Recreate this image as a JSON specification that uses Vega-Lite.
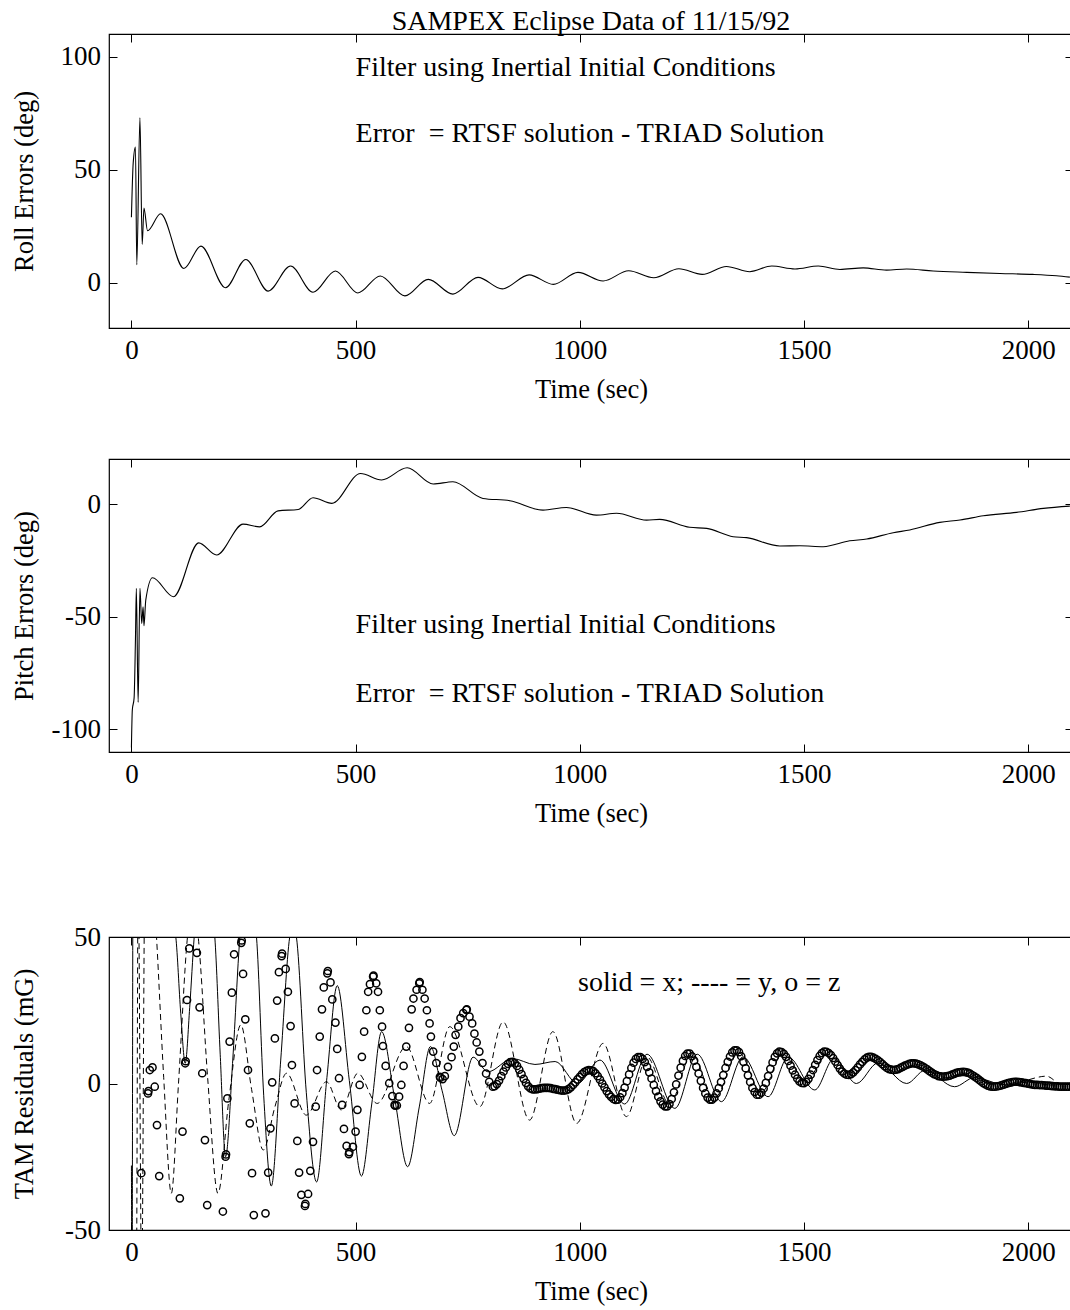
{
  "$schema": "https://vega.github.io/schema/vega-lite/v6.json",
  "background": "white",
  "padding": {"left": 10, "top": 6, "right": 0, "bottom": 0},
  "config": {
    "font": "Liberation Serif",
    "view": {"stroke": "black", "strokeWidth": 1.2},
    "axis": {
      "labelFont": "Liberation Serif", "titleFont": "Liberation Serif",
      "labelFontSize": 27, "titleFontSize": 26.5, "titleFontWeight": "normal",
      "labelColor": "black", "titleColor": "black", "tickColor": "black",
      "grid": false, "domain": false, "tickSize": -8, "tickWidth": 1,
      "labelFlush": false, "labelOverlap": false, "minExtent": 0
    }
  },
  "datasets": {
    "roll": [
      {"t":0,"v":29},{"t":4,"v":53},{"t":9,"v":60},{"t":12,"v":8},{"t":19,"v":73},{"t":24,"v":17},{"t":28,"v":33},{"t":36,"v":23},
      {"t":65,"v":30.5},{"t":117,"v":6.3},{"t":155,"v":16.2},{"t":210,"v":-2.2},{"t":255,"v":10.3},{"t":305,"v":-3.7},{"t":355,"v":7.4},
      {"t":405,"v":-4.2},{"t":455,"v":5.2},{"t":505,"v":-4.5},{"t":555,"v":3.0},{"t":610,"v":-5.8},{"t":662,"v":1.5},{"t":717,"v":-5.0},
      {"t":773,"v":2.4},{"t":827,"v":-2.7},{"t":887,"v":3.5},{"t":941,"v":-0.7},{"t":996,"v":4.6},{"t":1052,"v":0.8},{"t":1109,"v":5.3},
      {"t":1165,"v":2.2},{"t":1221,"v":6.2},{"t":1273,"v":3.7},{"t":1327,"v":7.2},{"t":1379,"v":4.9},{"t":1428,"v":7.4},{"t":1480,"v":6.1},
      {"t":1532,"v":7.4},{"t":1580,"v":5.9},{"t":1632,"v":6.6},{"t":1684,"v":5.6},{"t":1729,"v":6.1},{"t":1788,"v":5.2},{"t":1863,"v":4.6},
      {"t":1937,"v":4.1},{"t":2011,"v":3.7},{"t":2063,"v":3.1},{"t":2093,"v":2.5}
    ],
    "pitch": [
      {"t":0,"v":-108},{"t":2,"v":-91.4},{"t":6,"v":-86},{"t":9,"v":-60},{"t":11,"v":-37.4},{"t":15,"v":-88},{"t":19,"v":-37.4},{"t":23,"v":-53},
      {"t":26,"v":-45.6},{"t":28,"v":-54},{"t":32,"v":-42.6},{"t":47,"v":-32.7},{"t":94,"v":-41.1},{"t":150,"v":-17.2},{"t":190,"v":-22.6},
      {"t":249,"v":-8.9},{"t":286,"v":-10.1},{"t":327,"v":-3.0},{"t":372,"v":-2.4},{"t":405,"v":2.8},{"t":447,"v":0.3},{"t":511,"v":13.6},
      {"t":558,"v":10.7},{"t":615,"v":16.1},{"t":673,"v":8.9},{"t":717,"v":9.9},{"t":784,"v":2.5},{"t":844,"v":1.5},{"t":918,"v":-2.7},
      {"t":970,"v":-1.5},{"t":1037,"v":-4.9},{"t":1082,"v":-4.1},{"t":1149,"v":-7.1},{"t":1178,"v":-6.8},{"t":1245,"v":-10.3},{"t":1283,"v":-10.8},
      {"t":1342,"v":-14.5},{"t":1372,"v":-14.9},{"t":1446,"v":-18.6},{"t":1491,"v":-18.5},{"t":1543,"v":-18.9},{"t":1602,"v":-16.3},
      {"t":1640,"v":-15.5},{"t":1699,"v":-12.7},{"t":1736,"v":-11.5},{"t":1803,"v":-8.1},{"t":1848,"v":-7.1},{"t":1900,"v":-5.2},
      {"t":1974,"v":-3.7},{"t":2034,"v":-1.9},{"t":2093,"v":-0.9}
    ],
    "tamx": [
      {"t":0,"v":-28},{"t":1.5,"v":-70},{"t":3.5,"v":70},{"t":50,"v":85},{"t":99,"v":50},{"t":110,"v":24},{"t":120,"v":6.9},{"t":130,"v":26},
      {"t":140,"v":50},{"t":163,"v":75},{"t":186,"v":50},{"t":198,"v":10},{"t":210,"v":-25},{"t":226,"v":8},{"t":242,"v":50},{"t":261,"v":68},
      {"t":279,"v":50},{"t":295,"v":-4},{"t":312,"v":-35},{"t":333,"v":8},{"t":353,"v":50},{"t":360,"v":55},{"t":368,"v":50},{"t":390,"v":-3},
      {"t":413,"v":-33.6},{"t":436,"v":2},{"t":459,"v":33.4},{"t":486,"v":1},{"t":513,"v":-31.6},{"t":536,"v":-7},{"t":558,"v":17.7},
      {"t":587,"v":-5},{"t":616,"v":-28.4},{"t":642,"v":-8},{"t":667,"v":12.6},{"t":693,"v":-2.5},{"t":720,"v":-17.8},{"t":762,"v":9},
      {"t":795,"v":4},{"t":850,"v":8.5},{"t":900,"v":6.5},{"t":945,"v":7.5},{"t":995,"v":0},{"t":1045,"v":8},{"t":1100,"v":-7},
      {"t":1150,"v":10},{"t":1212,"v":-8.5},{"t":1262,"v":10},{"t":1316,"v":-6.2},{"t":1364,"v":9.1},{"t":1420,"v":-4.5},{"t":1465,"v":9},
      {"t":1524,"v":-2.2},{"t":1567,"v":8.5},{"t":1617,"v":0},{"t":1665,"v":7},{"t":1729,"v":0},{"t":1770,"v":4.5},{"t":1836,"v":-1.1},
      {"t":1880,"v":2},{"t":1950,"v":-0.5},{"t":2000,"v":0.5},{"t":2050,"v":-0.5},{"t":2100,"v":-0.3}
    ],
    "tamy": [
      {"t":0,"v":-70},{"t":11,"v":-70},{"t":15,"v":70},{"t":23,"v":-70},{"t":30,"v":70},{"t":42,"v":85},{"t":56,"v":50},{"t":72,"v":2},
      {"t":89,"v":-37.5},{"t":105,"v":0},{"t":125,"v":50},{"t":137,"v":62},{"t":149,"v":50},{"t":170,"v":2},{"t":193,"v":-37.5},
      {"t":217,"v":-6},{"t":244,"v":20},{"t":268,"v":-2},{"t":294,"v":-22.7},{"t":320,"v":-8},{"t":346,"v":3.5},{"t":390,"v":-10.8},
      {"t":435,"v":0.6},{"t":468,"v":-9},{"t":505,"v":3.5},{"t":548,"v":-6.8},{"t":613,"v":12.6},{"t":665,"v":-6.8},{"t":710,"v":19.4},
      {"t":777,"v":-7.9},{"t":829,"v":21},{"t":888,"v":-12.5},{"t":940,"v":17.7},{"t":993,"v":-13.6},{"t":1052,"v":13.7},{"t":1104,"v":-11.3},
      {"t":1150,"v":9},{"t":1200,"v":-7},{"t":1250,"v":10},{"t":1300,"v":-5},{"t":1355,"v":10.5},{"t":1405,"v":-3},{"t":1452,"v":10},
      {"t":1505,"v":1},{"t":1552,"v":10},{"t":1605,"v":3},{"t":1652,"v":8},{"t":1705,"v":4},{"t":1750,"v":6.5},{"t":1815,"v":2},
      {"t":1860,"v":3.5},{"t":1925,"v":-0.5},{"t":1980,"v":0.5},{"t":2041,"v":2.5},{"t":2070,"v":0},{"t":2100,"v":-0.5}
    ],
    "tamz": [
      {"t":22,"v":-30.6},{"t":37,"v":-3.4},{"t":38,"v":-2.6},{"t":41,"v":4.6},{"t":47,"v":5.5},{"t":52,"v":-1.1},{"t":57,"v":-14.2},{"t":62,"v":-31.6},
      {"t":108,"v":-39.2},{"t":114,"v":-16.4},{"t":120,"v":6.9},{"t":121,"v":7.6},{"t":124,"v":28.5},{"t":129,"v":46.1},{"t":146,"v":44.6},
      {"t":152,"v":26},{"t":158,"v":3.5},{"t":164,"v":-19.3},{"t":169,"v":-41.5},{"t":204,"v":-43.7},{"t":210,"v":-25},{"t":211,"v":-24.2},
      {"t":214,"v":-5.1},{"t":219,"v":14.3},{"t":224,"v":31},{"t":229,"v":44.1},{"t":245,"v":48},{"t":246,"v":48.8},{"t":249,"v":37.4},
      {"t":254,"v":21.9},{"t":260,"v":4.6},{"t":264,"v":-13.6},{"t":269,"v":-30.6},{"t":273,"v":-44.9},{"t":299,"v":-44.3},{"t":305,"v":-30.4},
      {"t":310,"v":-15.3},{"t":314,"v":0.4},{"t":320,"v":15.4},{"t":325,"v":28.3},{"t":329,"v":38},{"t":335,"v":43.5},{"t":336,"v":44.3},
      {"t":344,"v":39.1},{"t":349,"v":31.3},{"t":355,"v":19.6},{"t":358,"v":6.3},{"t":364,"v":-6.8},{"t":370,"v":-19.6},{"t":374,"v":-30.4},
      {"t":379,"v":-38},{"t":387,"v":-41.8},{"t":388,"v":-41.1},{"t":394,"v":-37.7},{"t":399,"v":-29.8},{"t":405,"v":-19.9},{"t":411,"v":-7.9},
      {"t":414,"v":4.6},{"t":420,"v":16},{"t":425,"v":25.3},{"t":429,"v":32.8},{"t":437,"v":37.6},{"t":438,"v":38.4},{"t":444,"v":34.5},
      {"t":448,"v":28.7},{"t":455,"v":20.8},{"t":459,"v":11.8},{"t":463,"v":1.8},{"t":470,"v":-7.3},{"t":474,"v":-15.5},{"t":480,"v":-21.3},
      {"t":485,"v":-24.1},{"t":486,"v":-23.4},{"t":494,"v":-21.6},{"t":500,"v":-16.4},{"t":504,"v":-9},{"t":509,"v":-0.5},{"t":514,"v":9.1},
      {"t":519,"v":17.7},{"t":524,"v":25},{"t":528,"v":31.3},{"t":532,"v":33.9},{"t":539,"v":36.5},{"t":540,"v":36.8},{"t":546,"v":34.2},
      {"t":550,"v":31.3},{"t":554,"v":25},{"t":559,"v":19.4},{"t":561,"v":12.8},{"t":567,"v":6},{"t":575,"v":0.1},{"t":582,"v":-4.3},
      {"t":587,"v":-7.3},{"t":588,"v":-7.6},{"t":592,"v":-7.5},{"t":597,"v":-4.5},{"t":602,"v":-0.5},{"t":607,"v":6},{"t":613,"v":12.6},
      {"t":619,"v":19},{"t":625,"v":25.3},{"t":629,"v":29},{"t":636,"v":32},{"t":642,"v":34.2},{"t":643,"v":34.6},{"t":649,"v":32},
      {"t":654,"v":29},{"t":659,"v":25},{"t":665,"v":20.5},{"t":668,"v":16},{"t":673,"v":10.9},{"t":680,"v":7},{"t":688,"v":2.3},
      {"t":689,"v":2},{"t":694,"v":1.5},{"t":699,"v":2.5},{"t":706,"v":5.7},{"t":714,"v":9},{"t":719,"v":12.6},{"t":723,"v":16.6},
      {"t":729,"v":19.4},{"t":734,"v":22.3},{"t":740,"v":24},{"t":747,"v":25.1},{"t":748,"v":25.3},{"t":754,"v":22.8},{"t":760,"v":20.5},
      {"t":765,"v":17},{"t":770,"v":14},{"t":776,"v":10.9},{"t":783,"v":7},{"t":791,"v":3.4},{"t":798,"v":0.6},{"t":806,"v":-1.1},
      {"t":810,"v":-0.9},{"t":815,"v":-0.2},{"t":820,"v":1.0},{"t":825,"v":2.5},{"t":830,"v":4.1},{"t":835,"v":5.5},{"t":840,"v":6.7},{"t":845,"v":7.3},
      {"t":850,"v":7.4},{"t":855,"v":6.9},{"t":860,"v":6.0},{"t":865,"v":4.7},{"t":870,"v":3.2},{"t":875,"v":1.6},{"t":880,"v":0.2},{"t":885,"v":-1.0},
      {"t":890,"v":-1.7},{"t":895,"v":-2.0},{"t":900,"v":-2.0},{"t":905,"v":-1.9},{"t":910,"v":-1.75},{"t":915,"v":-1.6},{"t":920,"v":-1.5},
      {"t":925,"v":-1.5},{"t":930,"v":-1.5},{"t":935,"v":-1.6},{"t":940,"v":-1.8},{"t":945,"v":-1.95},{"t":950,"v":-2.1},{"t":955,"v":-2.3},
      {"t":960,"v":-2.4},{"t":965,"v":-2.4},{"t":970,"v":-2.3},{"t":975,"v":-1.9},{"t":980,"v":-1.3},{"t":985,"v":-0.5},{"t":990,"v":0.4},
      {"t":995,"v":1.4},{"t":1000,"v":2.3},{"t":1005,"v":3.2},{"t":1010,"v":3.9},{"t":1015,"v":4.3},{"t":1020,"v":4.6},{"t":1025,"v":4.5},
      {"t":1030,"v":4.2},{"t":1035,"v":3.5},{"t":1040,"v":2.5},{"t":1045,"v":1.3},{"t":1050,"v":0.0},{"t":1055,"v":-1.3},{"t":1060,"v":-2.6},
      {"t":1065,"v":-3.7},{"t":1070,"v":-4.6},{"t":1075,"v":-5.3},{"t":1080,"v":-5.6},{"t":1085,"v":-5.5},{"t":1090,"v":-4.7},{"t":1095,"v":-3.3},
      {"t":1100,"v":-1.4},{"t":1105,"v":0.8},{"t":1110,"v":3.1},{"t":1115,"v":5.3},{"t":1120,"v":7.1},{"t":1125,"v":8.4},{"t":1130,"v":9.0},
      {"t":1135,"v":9.0},{"t":1140,"v":8.4},{"t":1145,"v":7.3},{"t":1150,"v":5.7},{"t":1155,"v":3.8},{"t":1160,"v":1.7},{"t":1165,"v":-0.5},
      {"t":1170,"v":-2.6},{"t":1175,"v":-4.5},{"t":1180,"v":-6.1},{"t":1185,"v":-7.2},{"t":1190,"v":-7.8},{"t":1195,"v":-7.8},{"t":1200,"v":-7.0},
      {"t":1205,"v":-5.3},{"t":1210,"v":-3.0},{"t":1215,"v":-0.3},{"t":1220,"v":2.7},{"t":1225,"v":5.4},{"t":1230,"v":7.7},{"t":1235,"v":9.4},
      {"t":1240,"v":10.2},{"t":1245,"v":10.2},{"t":1250,"v":9.3},{"t":1255,"v":7.8},{"t":1260,"v":5.7},{"t":1265,"v":3.4},{"t":1270,"v":0.9},
      {"t":1275,"v":-1.5},{"t":1280,"v":-3.4},{"t":1285,"v":-4.8},{"t":1290,"v":-5.5},{"t":1295,"v":-5.5},{"t":1300,"v":-4.8},{"t":1305,"v":-3.4},
      {"t":1310,"v":-1.6},{"t":1315,"v":0.5},{"t":1320,"v":2.9},{"t":1325,"v":5.3},{"t":1330,"v":7.4},{"t":1335,"v":9.2},{"t":1340,"v":10.6},
      {"t":1345,"v":11.3},{"t":1350,"v":11.3},{"t":1355,"v":10.7},{"t":1360,"v":9.3},{"t":1365,"v":7.4},{"t":1370,"v":5.2},{"t":1375,"v":2.8},
      {"t":1380,"v":0.5},{"t":1385,"v":-1.5},{"t":1390,"v":-2.9},{"t":1395,"v":-3.8},{"t":1400,"v":-3.8},{"t":1405,"v":-3.1},{"t":1410,"v":-1.7},
      {"t":1415,"v":0.2},{"t":1420,"v":2.5},{"t":1425,"v":5.0},{"t":1430,"v":7.2},{"t":1435,"v":9.1},{"t":1440,"v":10.3},{"t":1445,"v":10.9},
      {"t":1450,"v":10.7},{"t":1455,"v":10.1},{"t":1460,"v":9.1},{"t":1465,"v":7.7},{"t":1470,"v":6.1},{"t":1475,"v":4.5},{"t":1480,"v":3.0},
      {"t":1485,"v":1.7},{"t":1490,"v":0.7},{"t":1495,"v":0.2},{"t":1500,"v":0.1},{"t":1505,"v":0.6},{"t":1510,"v":1.6},{"t":1515,"v":3.0},
      {"t":1520,"v":4.6},{"t":1525,"v":6.4},{"t":1530,"v":8.0},{"t":1535,"v":9.4},{"t":1540,"v":10.4},{"t":1545,"v":10.9},{"t":1550,"v":10.8},
      {"t":1555,"v":10.4},{"t":1560,"v":9.7},{"t":1565,"v":8.7},{"t":1570,"v":7.5},{"t":1575,"v":6.3},{"t":1580,"v":5.1},{"t":1585,"v":4.1},
      {"t":1590,"v":3.4},{"t":1595,"v":3.0},{"t":1600,"v":2.9},{"t":1605,"v":3.2},{"t":1610,"v":3.8},{"t":1615,"v":4.6},{"t":1620,"v":5.5},
      {"t":1625,"v":6.5},{"t":1630,"v":7.4},{"t":1635,"v":8.2},{"t":1640,"v":8.8},{"t":1645,"v":9.1},{"t":1650,"v":9.1},{"t":1655,"v":8.8},
      {"t":1660,"v":8.4},{"t":1665,"v":7.9},{"t":1670,"v":7.3},{"t":1675,"v":6.6},{"t":1680,"v":5.9},{"t":1685,"v":5.3},{"t":1690,"v":4.9},
      {"t":1695,"v":4.7},{"t":1700,"v":4.6},{"t":1705,"v":4.7},{"t":1710,"v":4.9},{"t":1715,"v":5.3},{"t":1720,"v":5.7},{"t":1725,"v":6.1},
      {"t":1730,"v":6.4},{"t":1735,"v":6.7},{"t":1740,"v":6.9},{"t":1745,"v":6.9},{"t":1750,"v":6.8},{"t":1755,"v":6.5},{"t":1760,"v":6.2},
      {"t":1765,"v":5.8},{"t":1770,"v":5.3},{"t":1775,"v":4.8},{"t":1780,"v":4.2},{"t":1785,"v":3.7},{"t":1790,"v":3.2},{"t":1795,"v":2.9},
      {"t":1800,"v":2.5},{"t":1805,"v":2.4},{"t":1810,"v":2.3},{"t":1815,"v":2.4},{"t":1820,"v":2.5},{"t":1825,"v":2.7},{"t":1830,"v":3.0},
      {"t":1835,"v":3.3},{"t":1840,"v":3.6},{"t":1845,"v":3.8},{"t":1850,"v":3.9},{"t":1855,"v":4.0},{"t":1860,"v":3.9},{"t":1865,"v":3.7},
      {"t":1870,"v":3.4},{"t":1875,"v":2.9},{"t":1880,"v":2.4},{"t":1885,"v":1.9},{"t":1890,"v":1.3},{"t":1895,"v":0.7},{"t":1900,"v":0.1},
      {"t":1905,"v":-0.3},{"t":1910,"v":-0.7},{"t":1915,"v":-1.0},{"t":1920,"v":-1.1},{"t":1925,"v":-1.1},{"t":1930,"v":-1.0},{"t":1935,"v":-0.85},
      {"t":1940,"v":-0.65},{"t":1945,"v":-0.4},{"t":1950,"v":-0.15},{"t":1955,"v":0.1},{"t":1960,"v":0.3},{"t":1965,"v":0.5},{"t":1970,"v":0.6},
      {"t":1975,"v":0.6},{"t":1980,"v":0.5},{"t":1985,"v":0.4},{"t":1990,"v":0.2},{"t":1995,"v":0.1},{"t":2000,"v":-0.05},{"t":2005,"v":-0.2},
      {"t":2010,"v":-0.35},{"t":2015,"v":-0.45},{"t":2020,"v":-0.5},{"t":2025,"v":-0.52},{"t":2030,"v":-0.55},{"t":2035,"v":-0.6},{"t":2040,"v":-0.7},
      {"t":2045,"v":-0.75},{"t":2050,"v":-0.8},{"t":2055,"v":-0.9},{"t":2060,"v":-0.95},{"t":2065,"v":-1.0},{"t":2070,"v":-1.05},{"t":2075,"v":-1.08},
      {"t":2080,"v":-1.1},{"t":2085,"v":-1.1},{"t":2090,"v":-1.1},{"t":2095,"v":-1.0},{"t":2100,"v":-1.0}
    ],
    "notes1": [
      {"t":500,"v":91.6,"label":"Filter using Inertial Initial Conditions"},
      {"t":500,"v":62.1,"label":"Error\u00a0 = RTSF solution - TRIAD Solution"}
    ],
    "notes2": [
      {"t":500,"v":-57.4,"label":"Filter using Inertial Initial Conditions"},
      {"t":500,"v":-87.7,"label":"Error\u00a0 = RTSF solution - TRIAD Solution"}
    ],
    "notes3": [
      {"t":996,"v":31.6,"label":"solid = x; ---- = y, o = z"}
    ]
  },
  "vconcat": [
    {
      "spacing": 53,
      "vconcat": [
        {
          "width": 964, "height": 294,
          "title": {"text": "SAMPEX Eclipse Data of 11/15/92", "font": "Liberation Serif", "fontSize": 28, "fontWeight": "normal", "color": "black", "anchor": "middle", "frame": "group", "baseline": "alphabetic", "offset": -24},
          "layer": [
            {
              "data": {"name": "roll"},
              "mark": {"type": "line", "color": "black", "strokeWidth": 1.1, "interpolate": "monotone", "clip": true},
              "encoding": {
                "x": {"field": "t", "type": "quantitative", "scale": {"domain": [-50, 2100], "nice": false, "zero": false},
                      "axis": {"values": [0, 500, 1000, 1500, 2000], "labelExpr": "datum.value + ''", "title": "Time (sec)", "titleY": 61, "titleBaseline": "middle", "labelPadding": 17}},
                "y": {"field": "v", "type": "quantitative", "scale": {"domain": [-20, 110], "nice": false, "zero": false},
                      "axis": {"values": [0, 50, 100], "labelExpr": "datum.value + ''", "title": "Roll Errors (deg)", "titleX": -85, "titleBaseline": "middle", "labelPadding": 16.5}}
              }
            },
            {
              "data": {"name": "notes1"},
              "mark": {"type": "text", "align": "left", "baseline": "alphabetic", "font": "Liberation Serif", "fontSize": 28, "color": "black"},
              "encoding": {
                "x": {"field": "t", "type": "quantitative", "scale": {"domain": [-50, 2100], "nice": false, "zero": false},
                      "axis": {"orient": "top", "values": [0, 500, 1000, 1500, 2000], "labels": false, "title": null, "minExtent": 0, "maxExtent": 0}},
                "y": {"field": "v", "type": "quantitative", "scale": {"domain": [-20, 110], "nice": false, "zero": false},
                      "axis": {"orient": "right", "values": [0, 50, 100], "labels": false, "title": null, "minExtent": 0, "maxExtent": 0}},
                "text": {"field": "label"}
              }
            }
          ],
          "resolve": {"axis": {"x": "independent", "y": "independent"}}
        },
        {
          "width": 964, "height": 293,
          "layer": [
            {
              "data": {"name": "pitch"},
              "mark": {"type": "line", "color": "black", "strokeWidth": 1.1, "interpolate": "monotone", "clip": true},
              "encoding": {
                "x": {"field": "t", "type": "quantitative", "scale": {"domain": [-50, 2100], "nice": false, "zero": false},
                      "axis": {"values": [0, 500, 1000, 1500, 2000], "labelExpr": "datum.value + ''", "title": "Time (sec)", "titleY": 61, "titleBaseline": "middle", "labelPadding": 17}},
                "y": {"field": "v", "type": "quantitative", "scale": {"domain": [-110, 20], "nice": false, "zero": false},
                      "axis": {"values": [-100, -50, 0], "labelExpr": "datum.value + ''", "title": "Pitch Errors (deg)", "titleX": -85, "titleBaseline": "middle", "labelPadding": 16.5}}
              }
            },
            {
              "data": {"name": "notes2"},
              "mark": {"type": "text", "align": "left", "baseline": "alphabetic", "font": "Liberation Serif", "fontSize": 28, "color": "black"},
              "encoding": {
                "x": {"field": "t", "type": "quantitative", "scale": {"domain": [-50, 2100], "nice": false, "zero": false},
                      "axis": {"orient": "top", "values": [0, 500, 1000, 1500, 2000], "labels": false, "title": null, "minExtent": 0, "maxExtent": 0}},
                "y": {"field": "v", "type": "quantitative", "scale": {"domain": [-110, 20], "nice": false, "zero": false},
                      "axis": {"orient": "right", "values": [-100, -50, 0], "labels": false, "title": null, "minExtent": 0, "maxExtent": 0}},
                "text": {"field": "label"}
              }
            }
          ],
          "resolve": {"axis": {"x": "independent", "y": "independent"}}
        }
      ]
    },
    {
      "width": 964, "height": 293,
      "layer": [
        {
          "data": {"name": "tamx"},
          "mark": {"type": "line", "color": "black", "strokeWidth": 1, "interpolate": "monotone", "clip": true},
          "encoding": {
            "x": {"field": "t", "type": "quantitative", "scale": {"domain": [-50, 2100], "nice": false, "zero": false},
                  "axis": {"values": [0, 500, 1000, 1500, 2000], "labelExpr": "datum.value + ''", "title": "Time (sec)", "titleY": 61, "titleBaseline": "middle", "labelPadding": 17}},
            "y": {"field": "v", "type": "quantitative", "scale": {"domain": [-50, 50], "nice": false, "zero": false},
                  "axis": {"values": [-50, 0, 50], "labelExpr": "datum.value + ''", "title": "TAM Residuals (mG)", "titleX": -85, "titleBaseline": "middle", "labelPadding": 16.5}}
          }
        },
        {
          "data": {"name": "tamy"},
          "mark": {"type": "line", "color": "black", "strokeWidth": 1, "strokeDash": [6, 4], "interpolate": "monotone", "clip": true},
          "encoding": {
            "x": {"field": "t", "type": "quantitative", "scale": {"domain": [-50, 2100], "nice": false, "zero": false}, "axis": null},
            "y": {"field": "v", "type": "quantitative", "scale": {"domain": [-50, 50], "nice": false, "zero": false}, "axis": null}
          }
        },
        {
          "data": {"name": "tamz"},
          "mark": {"type": "point", "shape": "circle", "filled": false, "color": "black", "strokeWidth": 1.5, "size": 52, "opacity": 1, "clip": true},
          "encoding": {
            "x": {"field": "t", "type": "quantitative", "scale": {"domain": [-50, 2100], "nice": false, "zero": false}, "axis": null},
            "y": {"field": "v", "type": "quantitative", "scale": {"domain": [-50, 50], "nice": false, "zero": false}, "axis": null}
          }
        },
        {
          "data": {"name": "notes3"},
          "mark": {"type": "text", "align": "left", "baseline": "alphabetic", "font": "Liberation Serif", "fontSize": 28, "color": "black"},
          "encoding": {
            "x": {"field": "t", "type": "quantitative", "scale": {"domain": [-50, 2100], "nice": false, "zero": false},
                  "axis": {"orient": "top", "values": [0, 500, 1000, 1500, 2000], "labels": false, "title": null, "minExtent": 0, "maxExtent": 0}},
            "y": {"field": "v", "type": "quantitative", "scale": {"domain": [-50, 50], "nice": false, "zero": false},
                  "axis": {"orient": "right", "values": [-50, 0, 50], "labels": false, "title": null, "minExtent": 0, "maxExtent": 0}},
            "text": {"field": "label"}
          }
        }
      ],
      "resolve": {"axis": {"x": "independent", "y": "independent"}}
    }
  ],
  "spacing": 94
}
